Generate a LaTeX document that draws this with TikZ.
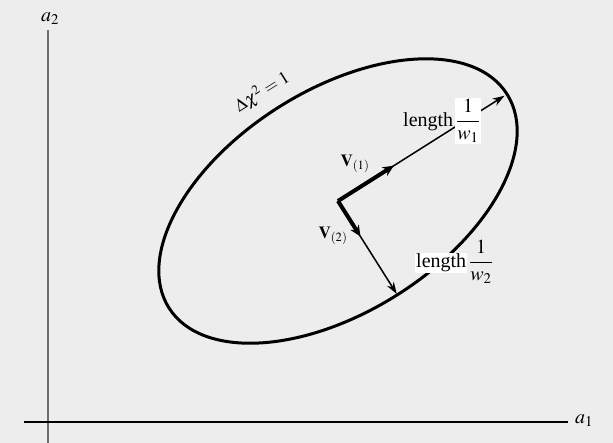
\documentclass[tikz,border=0pt]{standalone}
\usepackage{amsmath}
\usepackage{mathptmx}
\usepackage{fontspec}
\setmainfont{Liberation Serif}
\usetikzlibrary{calc,arrows.meta}
\definecolor{bgcol}{RGB}{237,237,237}
\definecolor{axgray}{RGB}{110,110,110}
\begin{document}
\begin{tikzpicture}[x=1pt,y=1pt,
  big/.style={font=\fontsize{20}{23}\selectfont, inner sep=0.8pt},
  vlab/.style={font=\fontsize{17}{20}\selectfont, inner sep=0pt},
  axlab/.style={font=\fontsize{20}{24}\selectfont, inner sep=0pt},
  thinvec/.style={line width=1.5pt, -{Stealth[length=12pt,width=8pt]}},
  thickvec/.style={line width=4pt, -{Stealth[length=11pt,width=10pt]}},
  axis/.style={line width=1.2pt}]
\fill[bgcol] (0,0) rectangle (613,443);
\useasboundingbox (0,0) rectangle (613,443);
% axes
\coordinate (ytop) at (48,413);
\coordinate (ybot) at (48,0);
\coordinate (xl) at (24,21);
\coordinate (xr) at (568,21);
\draw[axis, axgray] (ybot) -- (ytop);
\draw[axis] (xl) -- (xr);
\node[axlab] (a2) at (50,424) {$a_2$};
\node[axlab] (a1) at (584,22) {$a_1$};
% ellipse
\coordinate (O) at (338,242);
\draw[line width=3pt, rotate around={32.3:(O)}] (O) ellipse[x radius=200, y radius=111];
\node[font=\fontsize{18}{21}\selectfont, rotate=32, inner sep=0pt] (chi) at (262,351) {$\Delta\chi^2 = 1$};
% vectors
\coordinate (v1m) at ($(O)+(32.3:66)$);
\coordinate (v1e) at ($(O)+(32.3:197)$);
\coordinate (v2m) at ($(O)+(-57.7:42)$);
\coordinate (v2e) at ($(O)+(-57.7:110)$);
\draw[thinvec] (O) -- (v1e);
\draw[thinvec] (O) -- (v2e);
\draw[thickvec] (O) -- (v1m);
\draw[thickvec] (O) -- (v2m);
\node[vlab] (V1) at (355,279) {$\mathbf{V}_{(1)}$};
\node[vlab] (V2) at (333,207) {$\mathbf{V}_{(2)}$};
% length labels
\node[big] (f1) at (468,322) [fill=white] {$\dfrac{1}{w_1}$};
\node[big, anchor=base east] (l1) at ($(f1.west)+(-1,-6)$) {length};
\node[big] (f2) at (481,181) {$\dfrac{1}{w_2}$};
\node[big, anchor=base east, fill=white] (l2) at ($(f2.west)+(-1,-6)$) {length};
\end{tikzpicture}
\end{document}
